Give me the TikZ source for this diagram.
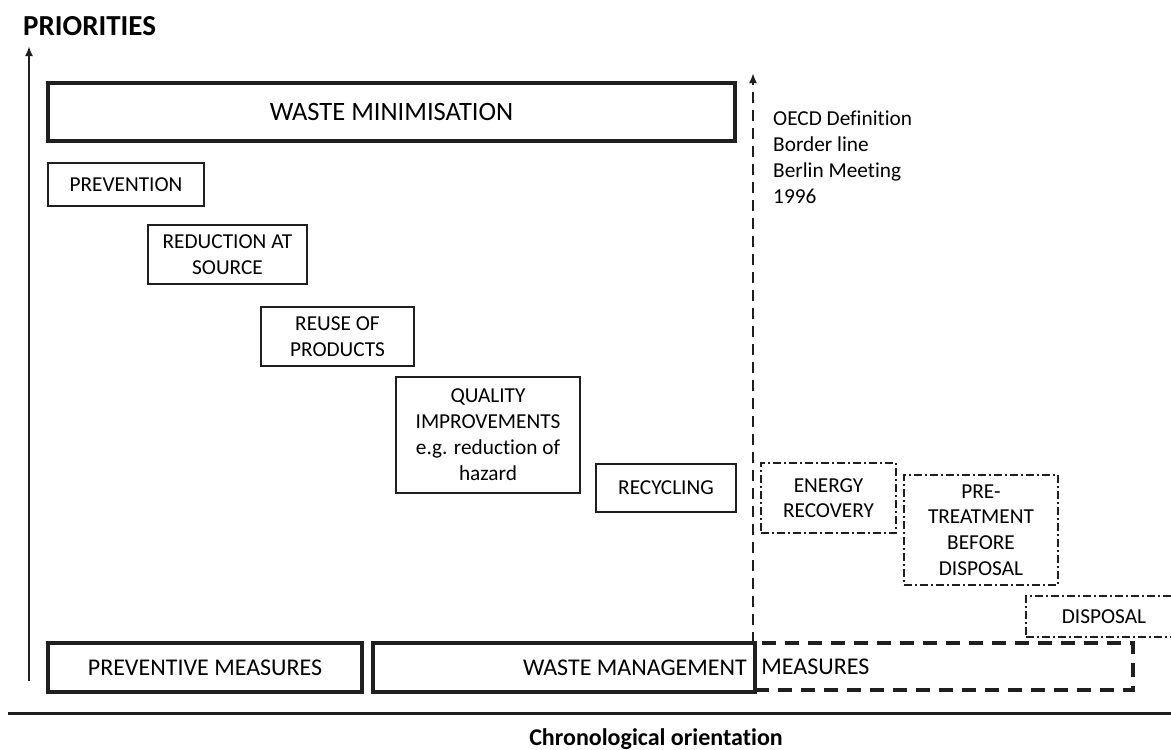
\documentclass[tikz,border=0pt]{standalone}
\usepackage{fontspec}
\setmainfont{Carlito}[Ligatures={NoCommon}]
\usetikzlibrary{arrows.meta}
\tikzset{
  ink/.style={draw=black!88},
  thickbox/.style={ink, line width=4pt, inner sep=0pt, font=\fontsize{24}{29}\selectfont},
  thinbox/.style={ink, line width=2pt, inner sep=0pt, align=center, font=\fontsize{21.3}{26}\selectfont},
  ddbox/.style={ink, line width=2.2pt, dash pattern=on 8pt off 3pt on 2pt off 3pt, inner sep=0pt, align=center, font=\fontsize{21.3}{25.6}\selectfont},
  dashbox/.style={ink, line width=3.5pt, dash pattern=on 14pt off 9pt, inner sep=0pt},
  biglabel/.style={inner sep=0pt, font=\fontsize{24}{29}\selectfont},
  axis/.style={draw=black!88, line width=2pt, -{Latex[length=10pt,width=8pt]}},
  border/.style={draw=black!88, line width=2.5pt, dash pattern=on 11pt off 7pt, -{Latex[length=10pt,width=8pt]}},
  smalltext/.style={inner sep=0pt, align=left, font=\fontsize{21.3}{25.8}\selectfont},
}
\begin{document}
\begin{tikzpicture}[x=1pt, y=-1pt]
\useasboundingbox (0,0) rectangle (1171,750);
% title
\node[anchor=west, inner sep=0pt, font=\fontsize{29}{34}\selectfont\bfseries] (title) at (23,26) {PRIORITIES};
% axes
\coordinate (ybot) at (29,681);
\coordinate (ytop) at (29,46);
\draw[axis] (ybot) -- (ytop);
\coordinate (xl) at (8,713);
\coordinate (xr) at (1171,713);
\draw[draw=black!88, line width=3pt] (xl) -- (xr);
\node[anchor=base, inner sep=0pt, font=\fontsize{24}{29}\selectfont\bfseries] (chrono) at (656,745) {Chronological orientation};
% top box
\node[thickbox, font=\fontsize{26.5}{31}\selectfont, minimum width=687pt, minimum height=58pt] (wm) at (391.5,112) {WASTE MINIMISATION};
% staircase
\node[thinbox, minimum width=156pt, minimum height=43pt] (prev) at (126,184.5) {PREVENTION};
\node[thinbox, minimum width=159pt, minimum height=59pt] (red) at (227.5,254.5) {REDUCTION AT\\SOURCE};
\node[thinbox, minimum width=153pt, minimum height=59pt] (reuse) at (337.5,336.5) {REUSE OF\\PRODUCTS};
\node[thinbox, minimum width=184pt, minimum height=116pt] (qual) at (488,435) {QUALITY\\IMPROVEMENTS\\e.g. reduction of\\hazard};
\node[thinbox, minimum width=140pt, minimum height=48pt] (recy) at (666,488) {RECYCLING};
\node[ddbox, minimum width=135pt, minimum height=70pt] (energy) at (828.5,498) {ENERGY\\RECOVERY};
\node[ddbox, minimum width=154pt, minimum height=110pt] (pre) at (981,530) {PRE-\\TREATMENT\\BEFORE\\DISPOSAL};
\node[ddbox, minimum width=156pt, minimum height=41pt] (disp) at (1104,616.5) {DISPOSAL};
% border line
\coordinate (bbot) at (753,643);
\coordinate (btop) at (753,73);
\draw[border] (bbot) -- (btop);
\node[smalltext, anchor=north west] (oecd) at (773,111) {OECD Definition\\Border line\\Berlin Meeting\\1996};
% bottom boxes
\node[dashbox, minimum width=378pt, minimum height=47pt] (meas) at (944,666.5) {};
\node[thickbox, minimum width=314pt, minimum height=49pt] (pm) at (205,667.5) {PREVENTIVE MEASURES};
\node[thickbox, minimum width=382pt, minimum height=49pt] (wmm) at (564,667.5) {};
\node[biglabel, anchor=east] (wmmtext) at ([xshift=-10pt]wmm.east) {WASTE MANAGEMENT};
\node[biglabel, anchor=west] (meastext) at ([xshift=8pt]meas.west) {MEASURES};
\end{tikzpicture}
\end{document}
